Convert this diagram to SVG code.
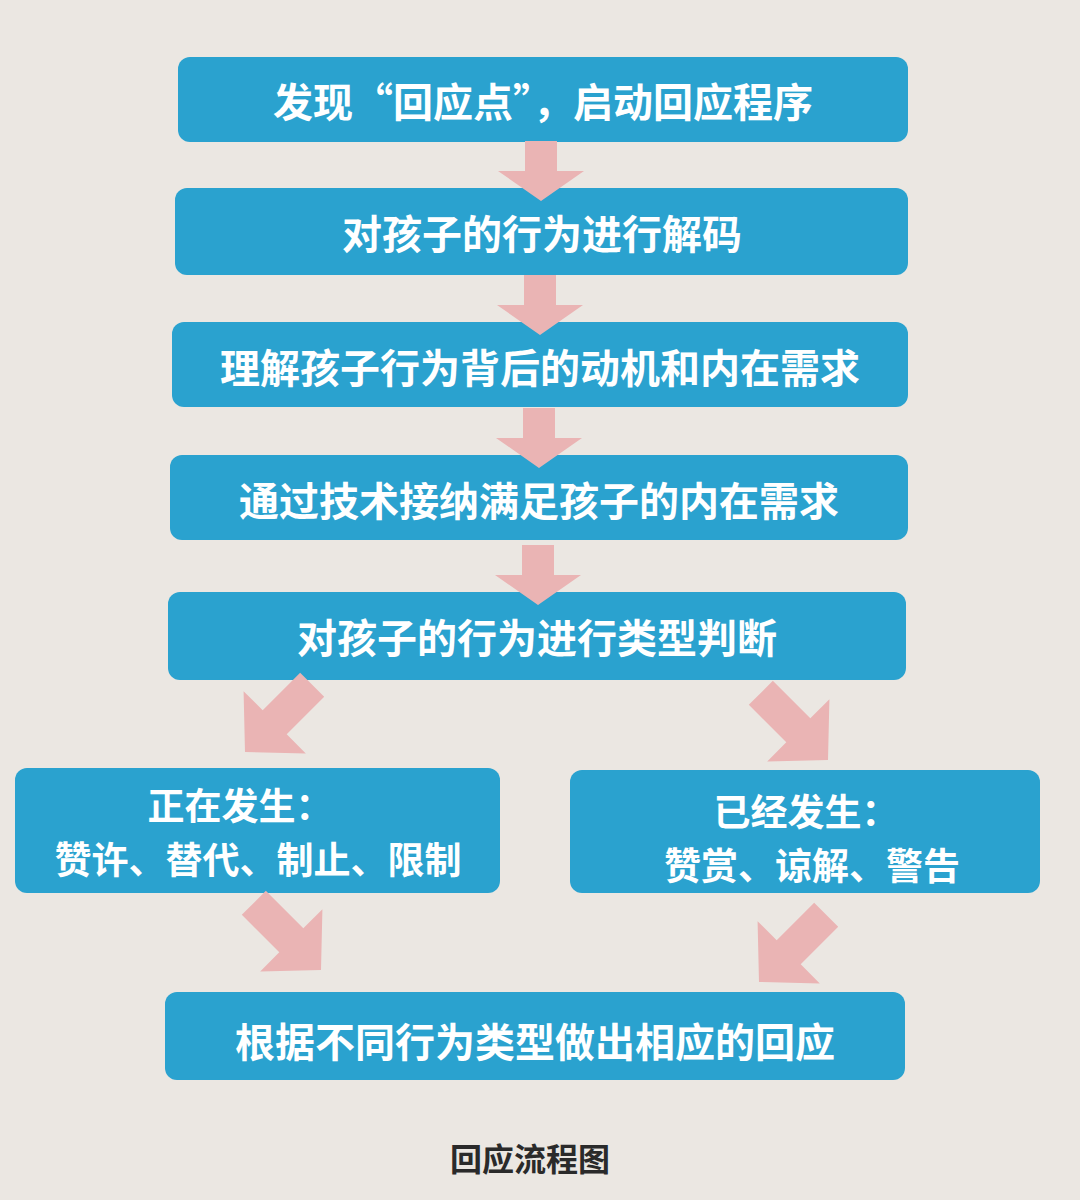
<svg xmlns="http://www.w3.org/2000/svg" width="1080" height="1200" viewBox="0 0 1080 1200">
<style>
.box{fill:#2aa2cf}
.t{fill:#ffffff;font-family:"Noto Sans CJK SC","Noto Sans",sans-serif;font-weight:bold;font-size:40px;text-anchor:middle;dominant-baseline:central}
.t2{fill:#ffffff;font-family:"Noto Sans CJK SC","Noto Sans",sans-serif;font-weight:bold;font-size:37px;text-anchor:middle;dominant-baseline:central}
.cap{fill:#2a2a2a;font-family:"Noto Sans CJK SC","Noto Sans",sans-serif;font-weight:bold;font-size:32px;text-anchor:middle;dominant-baseline:central}
.arr{fill:#eab4b4}
</style>
<defs>
<path id="av" d="M-16,-60 L16,-60 L16,-30 L43,-30 L0,0 L-43,-30 L-16,-30 Z"/>
<path id="ad" d="M-17,-95 L17,-95 L17,-42 L44,-42 L0,0 L-44,-42 L-17,-42 Z"/>
</defs>
<rect width="1080" height="1200" fill="#ebe7e2"/>
<g id="n1"><rect class="box" x="178" y="57" width="730" height="85" rx="12"/><text class="t" x="543" y="100">发现“回应点”，启动回应程序</text></g>
<g id="n2"><rect class="box" x="175" y="188" width="733" height="87" rx="12"/><text class="t" x="542" y="232">对孩子的行为进行解码</text></g>
<g id="n3"><rect class="box" x="172" y="322" width="736" height="85" rx="12"/><text class="t" x="540" y="366">理解孩子行为背后的动机和内在需求</text></g>
<g id="n4"><rect class="box" x="170" y="455" width="738" height="85" rx="12"/><text class="t" x="539" y="499">通过技术接纳满足孩子的内在需求</text></g>
<g id="n5"><rect class="box" x="168" y="592" width="738" height="88" rx="12"/><text class="t" x="537" y="636">对孩子的行为进行类型判断</text></g>
<g id="n6"><rect class="box" x="15" y="768" width="485" height="125" rx="12"/><text class="t2" x="240" y="804">正在发生：</text><text class="t2" x="258" y="858">赞许、替代、制止、限制</text></g>
<g id="n7"><rect class="box" x="570" y="770" width="470" height="123" rx="12"/><text class="t2" x="806" y="810">已经发生：</text><text class="t2" x="812" y="864">赞赏、谅解、警告</text></g>
<g id="n8"><rect class="box" x="165" y="992" width="740" height="88" rx="12"/><text class="t" x="535" y="1040">根据不同行为类型做出相应的回应</text></g>
<g id="connectors">
<use href="#av" class="arr" transform="translate(541,201)"/>
<use href="#av" class="arr" transform="translate(540,335)"/>
<use href="#av" class="arr" transform="translate(539,468)"/>
<use href="#av" class="arr" transform="translate(538,605)"/>
<use href="#ad" class="arr" transform="translate(245,752) rotate(45)"/>
<use href="#ad" class="arr" transform="translate(828,760) rotate(-45)"/>
<use href="#ad" class="arr" transform="translate(321,970) rotate(-45)"/>
<use href="#ad" class="arr" transform="translate(759,982) rotate(45)"/>
</g>
<text class="cap" x="530" y="1157">回应流程图</text>
</svg>
